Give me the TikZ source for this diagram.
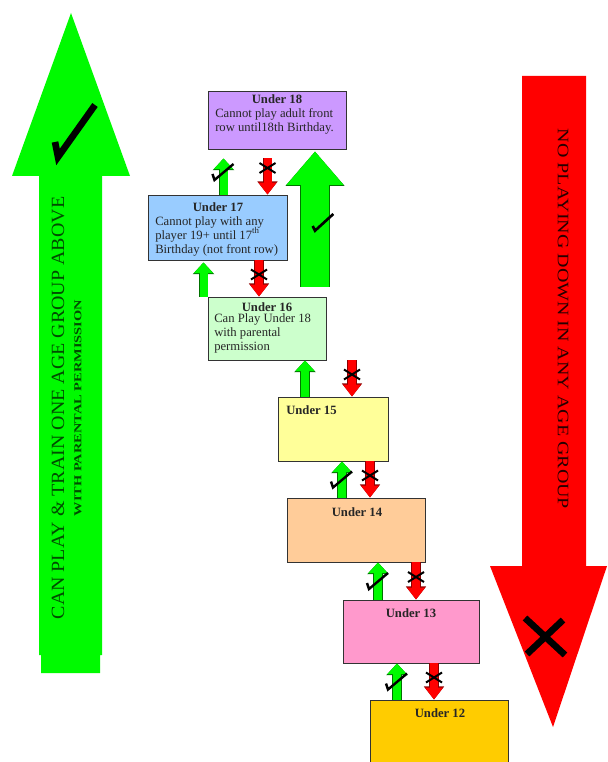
\documentclass[tikz,border=0pt]{standalone}
\usepackage{fontspec}
\setmainfont{Liberation Serif}
\usetikzlibrary{arrows.meta}
\definecolor{okgreen}{RGB}{0,250,0}
\definecolor{nored}{RGB}{255,0,0}
\definecolor{col18}{RGB}{204,153,255}
\definecolor{col17}{RGB}{153,204,255}
\definecolor{col16}{RGB}{204,255,204}
\definecolor{col15}{RGB}{255,255,153}
\definecolor{col14}{RGB}{255,204,153}
\definecolor{col13}{RGB}{255,153,204}
\definecolor{col12}{RGB}{255,204,0}
\begin{document}
\begin{tikzpicture}[x=0.75pt,y=-0.75pt,
  agebox/.style 2 args={draw=black!80, line width=0.7pt, minimum width=#1*0.75pt, minimum height=#2*0.75pt, inner sep=0pt},
  boxtitle/.style={inner sep=0pt, anchor=base, text=black!85, font=\fontsize{9.5}{10.5}\selectfont\bfseries},
  boxtext/.style={inner sep=0pt, anchor=north west, align=left, text=black!85, font=\fontsize{9.5}{10.5}\selectfont},
  okarr/.style={line width=6pt, okgreen, -{Triangle[width=14pt,length=8pt]},
    preaction={draw=green!45!black, line width=7pt, -{Triangle[width=15.6pt,length=8.8pt]}}},
  noarr/.style={line width=6pt, nored, -{Triangle[width=13pt,length=9pt]},
    preaction={draw=red!55!black, line width=7pt, -{Triangle[width=14.6pt,length=9.8pt]}}},
  bigok/.style={line width=21pt, okgreen, -{Triangle[width=41pt,length=25pt]},
    preaction={draw=green!45!black, line width=22pt, -{Triangle[width=42.6pt,length=25.8pt]}}},
  okmark/.pic={\draw[black, line width=1.8pt] (-11,2) -- (-9,8) -- (10,-8);},
  nomark/.pic={\draw[black, line width=1.5pt] (-8,-9) -- (8,1) (-8,1) -- (8,-9);}]
\useasboundingbox (0,0) rectangle (607,762);
\clip (0,0) rectangle (607,762);

\fill[okgreen] (41,673) -- (41,655) -- (39,655) -- (39,176) -- (12,176) -- (71,13) -- (130,176)
  -- (102,176) -- (102,655) -- (100,655) -- (100,673) -- cycle;
\draw[black, line width=5pt] (55,142) -- (58,157) -- (95,105);
\node[rotate=90, inner sep=0pt, text=green!30!black, font=\fontsize{14}{14}\selectfont] (up1) at (58,408)
  {\scalebox{1.07}[1]{CAN PLAY \& TRAIN ONE AGE GROUP ABOVE}};
\node[rotate=90, inner sep=0pt, text=green!30!black, font=\fontsize{8}{8}\selectfont\bfseries] (up2) at (78,408)
  {\scalebox{1.35}[1]{WITH PARENTAL PERMISSION}};

\fill[nored] (522,76) -- (586,76) -- (586,566) -- (607,566) -- (553,727) -- (490,566) -- (522,566) -- cycle;
\draw[black, line width=5pt] (525,618) -- (565,655) (527,654) -- (563,620);
\node[rotate=-90, inner sep=0pt, text=black!85!red, font=\fontsize{12}{12}\selectfont] (down) at (563,319)
  {\scalebox{1.25}[1]{NO PLAYING DOWN IN ANY AGE GROUP}};

\node[agebox={138}{58}, fill=col18] (u18) at (277,120) {};
\node[agebox={139}{65}, fill=col17] (u17) at (217.5,227.5) {};
\node[agebox={118}{63}, fill=col16] (u16) at (267,328.5) {};
\node[agebox={110}{64}, fill=col15] (u15) at (333,429) {};
\node[agebox={138}{64}, fill=col14] (u14) at (356,530) {};
\node[agebox={136}{63}, fill=col13] (u13) at (411,631.5) {};
\node[agebox={138}{80}, fill=col12] (u12) at (439,740) {};

\node[boxtitle] (t18) at (277,104) {Under 18};
\node[boxtext] (b18) at (215,108) {Cannot play adult front\\row until18th Birthday.};
\node[boxtitle] (t17) at (218,212) {Under 17};
\node[boxtext] (b17) at (155,216) {Cannot play with any\\player 19+ until 17\textsuperscript{th}\\Birthday (not front row)};
\node[boxtitle] (t16) at (267,311) {Under 16};
\node[boxtext] (b16) at (214,313) {Can Play Under 18\\with parental\\permission};
\node[boxtitle, anchor=base west] (t15) at (286,414) {Under 15};
\node[boxtitle] (t14) at (357,516) {Under 14};
\node[boxtitle] (t13) at (411,617) {Under 13};
\node[boxtitle] (t12) at (440,717) {Under 12};

\draw[bigok, shorten <=7.5pt, shorten >=1.5pt] (u16.north -| 315,0) -- (u18.south -| 315,0);
\draw[black, line width=2pt] (312.7,226) -- (315,230.7) -- (333.3,214);

\draw[okarr, shorten >=6.75pt] (u17.north -| 223.5,0) -- coordinate (m1) (u18.south -| 223.5,0);
\draw[noarr, shorten <=6.75pt] (u18.south -| 267.5,0) -- coordinate (m2) (u17.north -| 267.5,0);
\draw[okarr, shorten >=1.5pt] (u16.north -| 203.5,0) -- (u17.south -| 203.5,0);
\draw[noarr] (u17.south -| 259,0) -- coordinate (m4) (u16.north -| 259,0);
\draw[okarr] (u15.north -| 305,0) -- (u16.south -| 305,0);
\draw[noarr] (u16.south -| 352,0) -- coordinate (m6) (u15.north -| 352,0);
\draw[okarr] (u14.north -| 342,0) -- coordinate (m7) (u15.south -| 342,0);
\draw[noarr] (u15.south -| 370,0) -- coordinate (m8) (u14.north -| 370,0);
\draw[okarr] (u13.north -| 378,0) -- coordinate (m9) (u14.south -| 378,0);
\draw[noarr] (u14.south -| 416,0) -- coordinate (m10) (u13.north -| 416,0);
\draw[okarr] (u12.north -| 397,0) -- coordinate (m11) (u13.south -| 397,0);
\draw[noarr] (u13.south -| 434,0) -- coordinate (m12) (u12.north -| 434,0);

\foreach \m in {m1,m7,m9,m11} \pic at (\m) {okmark};
\foreach \m in {m2,m4,m6,m8,m10,m12} \pic at (\m) {nomark};
\end{tikzpicture}
\end{document}
